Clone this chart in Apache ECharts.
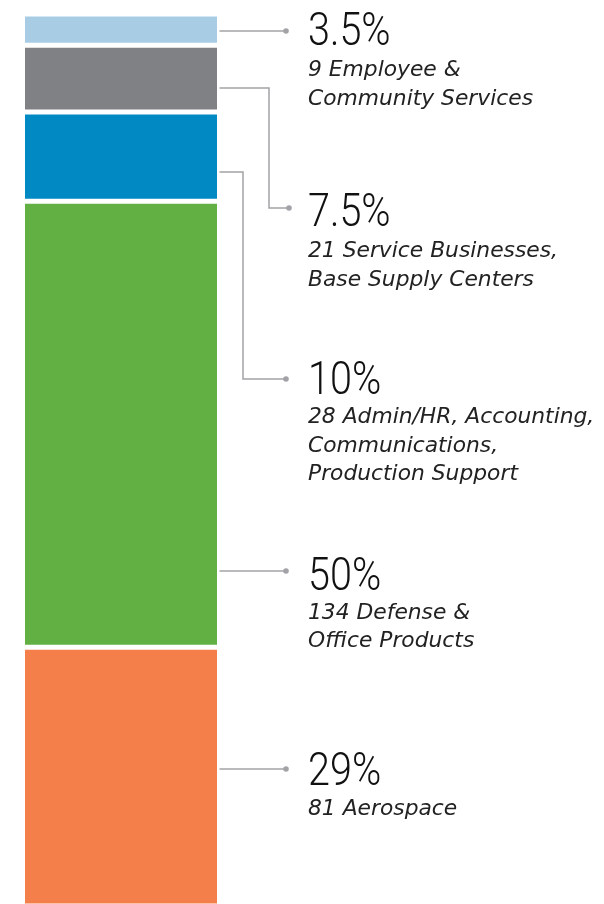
<!DOCTYPE html>
<html>
<head>
<meta charset="utf-8">
<script src="https://cdn.jsdelivr.net/npm/echarts@6/dist/echarts.min.js"></script>
<style>
  html, body { margin: 0; padding: 0; background: #fff; }
  #chart { width: 604px; height: 904px; }
</style>
</head>
<body>
<div id="chart"></div>
<script>
// segments, top to bottom
const segments = [
  "Employee & Community Services",
  "Service Businesses, Base Supply Centers",
  "Admin/HR, Accounting, Communications, Production Support",
  "Defense & Office Products",
  "Aerospace",
];
const shares = [3.5, 7.5, 10, 50, 29];
const shareLabels = ["3.5%", "7.5%", "10%", "50%", "29%"];
const captions = [
  ["9 Employee &", "Community Services"],
  ["21 Service Businesses,", "Base Supply Centers"],
  ["28 Admin/HR, Accounting,", "Communications,", "Production Support"],
  ["134 Defense &", "Office Products"],
  ["81 Aerospace"],
];
const colors = ["#a8cce4", "#808184", "#0089c3", "#62b044", "#f47f4b"];

// label layout (pixels)
const pctY = [33, 214, 382, 578, 773];
const capY = [70.5, 251.5, 417.5, 613, 809];
const capGap = 28.5;
const leaderPaths = [
  [[217, 31], [286, 31]],
  [[217, 88], [269, 88], [269, 208], [289, 208]],
  [[217, 172], [243, 172], [243, 379], [286, 379]],
  [[217, 571], [286, 571]],
  [[217, 769], [286, 769]],
];
const textX = 308;
const lineColor = "#a3a3a7";

const chart = echarts.init(document.getElementById("chart"));

const series = segments.map((name, i) => ({
  name: name,
  type: "bar",
  stack: "total",
  barWidth: "100%",
  barCategoryGap: 0,
  data: [shares[i]],
  itemStyle: { color: colors[i], borderColor: "#fff", borderWidth: 2.5 },
  emphasis: { disabled: true },
  silent: true,
}));

const graphics = [];
leaderPaths.forEach((pts) => {
  graphics.push({
    type: "polyline",
    shape: { points: pts },
    style: { stroke: lineColor, lineWidth: 1.5, fill: null },
    silent: true,
  });
  const end = pts[pts.length - 1];
  graphics.push({
    type: "circle",
    shape: { cx: end[0], cy: end[1], r: 2.8 },
    style: { fill: lineColor },
    silent: true,
  });
});
shareLabels.forEach((txt, i) => {
  graphics.push({
    type: "text",
    x: textX,
    y: pctY[i],
    scaleX: 0.86,
    style: {
      text: txt,
      fill: "#111",
      font: "300 46px Roboto, sans-serif",
      verticalAlign: "middle",
      align: "left",
    },
    silent: true,
  });
  captions[i].forEach((line, j) => {
    graphics.push({
      type: "text",
      x: textX,
      y: capY[i] + j * capGap,
      style: {
        text: line,
        fill: "#222",
        font: "italic 21.8px 'DejaVu Sans', sans-serif",
        verticalAlign: "middle",
        align: "left",
      },
      silent: true,
    });
  });
});

const option = {
  animation: false,
  grid: {
    left: 22.5,
    width: 197,
    top: 14,
    height: 892,
    outerBoundsMode: "none",
  },
  xAxis: { type: "category", data: ["Employees"], show: false },
  yAxis: { type: "value", min: 0, max: 100, inverse: true, show: false },
  series: series,
  graphic: graphics,
};

chart.setOption(option);
</script>
</body>
</html>
